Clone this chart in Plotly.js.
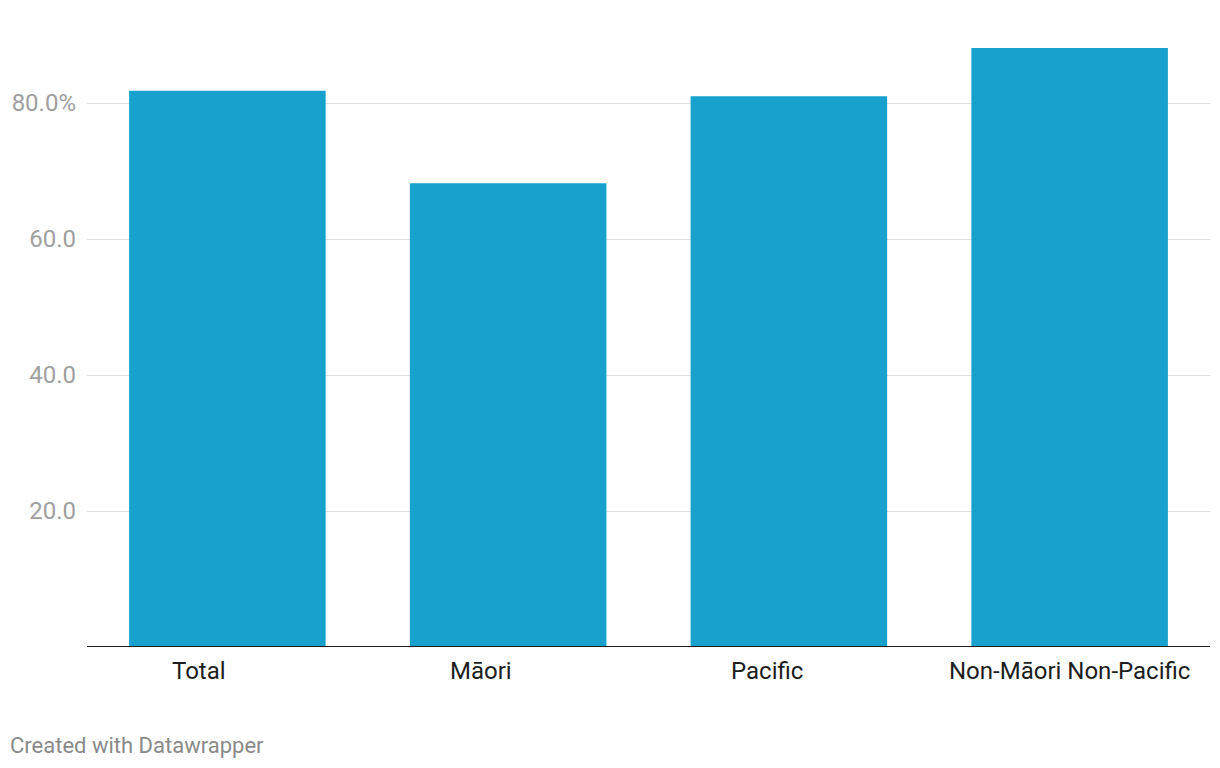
<!DOCTYPE html>
<html>
<head>
<meta charset="utf-8">
<script src="https://cdn.plot.ly/plotly-3.0.1.min.js"></script>
<style>
html,body{margin:0;padding:0;background:#fff;}
#chart{width:1220px;height:768px;}
</style>
</head>
<body>
<div id="chart"></div>
<script>
const categories = ["Total", "Māori", "Pacific", "Non-Māori Non-Pacific"];
const values = [81.8, 68.2, 81.0, 88.1];
const yTickVals = [20, 40, 60, 80];
const yTickText = ["20.0", "40.0", "60.0", "80.0%"];

// horizontal nudges of the category labels (px), as in the reference
const labelShift = [-28, -27, -22, 0];

const trace = {
  type: "bar",
  x: categories,
  y: values,
  marker: {color: "#18a1cd"},
  hoverinfo: "x+y"
};

const labelAnns = categories.map((c, i) => ({
  text: c,
  xref: "x", yref: "y",
  x: c, y: 0,
  xanchor: "center", yanchor: "middle",
  xshift: labelShift[i],
  yshift: -24,
  showarrow: false,
  font: {size: 24, color: "#1d1d1d"}
}));

const layout = {
  width: 1220,
  height: 768,
  margin: {l: 87, r: 10, t: 35, b: 121},
  paper_bgcolor: "#fff",
  plot_bgcolor: "#fff",
  bargap: 0.3,
  showlegend: false,
  font: {family: "Roboto, sans-serif"},
  xaxis: {
    type: "category",
    range: [-0.5, 3.5],
    showgrid: false,
    showline: false,
    zeroline: false,
    ticks: "",
    showticklabels: false
  },
  yaxis: {
    range: [0, 90],
    tickvals: yTickVals,
    ticktext: yTickText,
    showgrid: true,
    gridcolor: "#e0e0e0",
    gridwidth: 1,
    zeroline: false,
    showline: false,
    ticks: "",
    tickfont: {size: 24, color: "#a0a0a0"},
    ticklabelstandoff: 10
  },
  shapes: [{
    type: "line", xref: "paper", yref: "y",
    x0: 0, x1: 1, y0: 0, y1: 0,
    line: {color: "#1d1d1d", width: 2}
  }],
  annotations: labelAnns.concat([{
    text: "Created with Datawrapper",
    xref: "paper", yref: "paper",
    x: -87/1123, y: 0, xanchor: "left", yanchor: "middle",
    xshift: 8,
    yshift: -98,
    showarrow: false,
    font: {size: 22, color: "#8a8a8a"}
  }])
};

Plotly.newPlot("chart", [trace], layout, {displayModeBar: false, staticPlot: true});
</script>
</body>
</html>
